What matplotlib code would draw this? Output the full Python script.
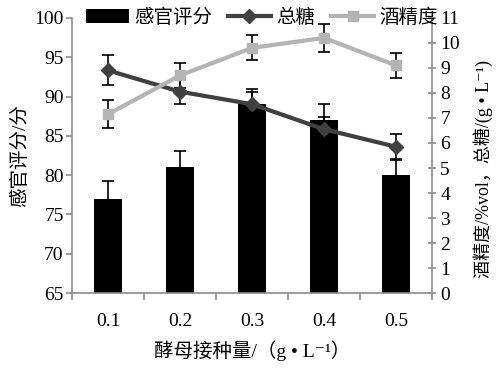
import numpy as np
import matplotlib
matplotlib.use('Agg')
import matplotlib.pyplot as plt

plt.rcParams['font.family'] = ['Liberation Serif', 'Noto Sans CJK SC', 'DejaVu Sans']
plt.rcParams['axes.unicode_minus'] = False

# data
doses = ['0.1', '0.2', '0.3', '0.4', '0.5']
score = [77, 81, 89, 87, 80]
score_err = [2.2, 2.1, 2.0, 2.0, 1.9]
sugar = [8.9, 8.05, 7.55, 6.55, 5.85]
sugar_err = [0.6, 0.5, 0.5, 0.5, 0.5]
alcohol = [7.15, 8.7, 9.8, 10.2, 9.1]
alcohol_err = [0.55, 0.5, 0.5, 0.55, 0.5]

spine_col = '#8c8c8c'

fig = plt.figure(figsize=(5.04, 3.72), dpi=100)
ax = fig.add_axes([0.143, 0.212, 0.714, 0.74])
x = np.arange(len(doses))

bars = ax.bar(x, score, width=0.38, color='black', label='感官评分', zorder=2)
ax.errorbar(x, score, yerr=score_err, fmt='none', ecolor='black',
            elinewidth=1.2, capsize=4, capthick=1.2, zorder=2)
ax.set_ylim(65, 100)
ax.set_yticks(range(65, 101, 5))
ax.set_xlim(-0.5, len(doses) - 0.5)
ax.set_xticks(x)
ax.set_xticklabels(doses)
ax.set_xticks(np.arange(-0.5, len(doses), 1), minor=True)
ax.tick_params(axis='x', which='major', length=0, pad=14, labelsize=14)
ax.tick_params(axis='x', which='minor', length=5, direction='out', color=spine_col, width=1.2)
ax.tick_params(axis='y', length=4, direction='out', color=spine_col, width=1.2, labelsize=14, pad=2)
for s in ['top', 'right']:
    ax.spines[s].set_visible(False)
for s in ['left', 'bottom']:
    ax.spines[s].set_color(spine_col)
    ax.spines[s].set_linewidth(1.2)
ax.set_ylabel('感官评分/分', fontsize=14, labelpad=4)
ax.set_xlabel('酵母接种量/（g • L⁻¹）', fontsize=14, labelpad=8)

ax2 = ax.twinx()
l1 = ax2.errorbar(x, sugar, yerr=sugar_err, color='#404040', lw=3, marker='D',
                  ms=7, mec='#404040', ecolor='black', elinewidth=1.2,
                  capsize=4, capthick=1.2, label='总糖', zorder=3)
l2 = ax2.errorbar(x, alcohol, yerr=alcohol_err, color='#b4b4b4', lw=3, marker='s',
                  ms=7, mec='#b4b4b4', ecolor='black', elinewidth=1.2,
                  capsize=4, capthick=1.2, label='酒精度', zorder=3)
ax2.set_ylim(0, 11)
ax2.set_yticks(range(0, 12))
ax2.tick_params(axis='y', length=6, direction='inout', color=spine_col, width=1.2, labelsize=14, pad=3)
for s in ['top', 'left', 'bottom']:
    ax2.spines[s].set_visible(False)
ax2.spines['right'].set_color(spine_col)
ax2.spines['right'].set_linewidth(1.2)
ax2.set_ylabel('酒精度/%vol，总糖/(g • L⁻¹)', fontsize=13)
ax2.yaxis.set_label_coords(1.115, 0.45)

handles = [bars, l1.lines[0], l2.lines[0]]
labels = ['感官评分', '总糖', '酒精度']
fig.legend(handles, labels, loc='upper center', bbox_to_anchor=(0.52, 1.025), ncol=3,
           frameon=False, fontsize=14, handlelength=2.2, handletextpad=0.3,
           columnspacing=0.8)

fig.savefig('out.png', dpi=100)
